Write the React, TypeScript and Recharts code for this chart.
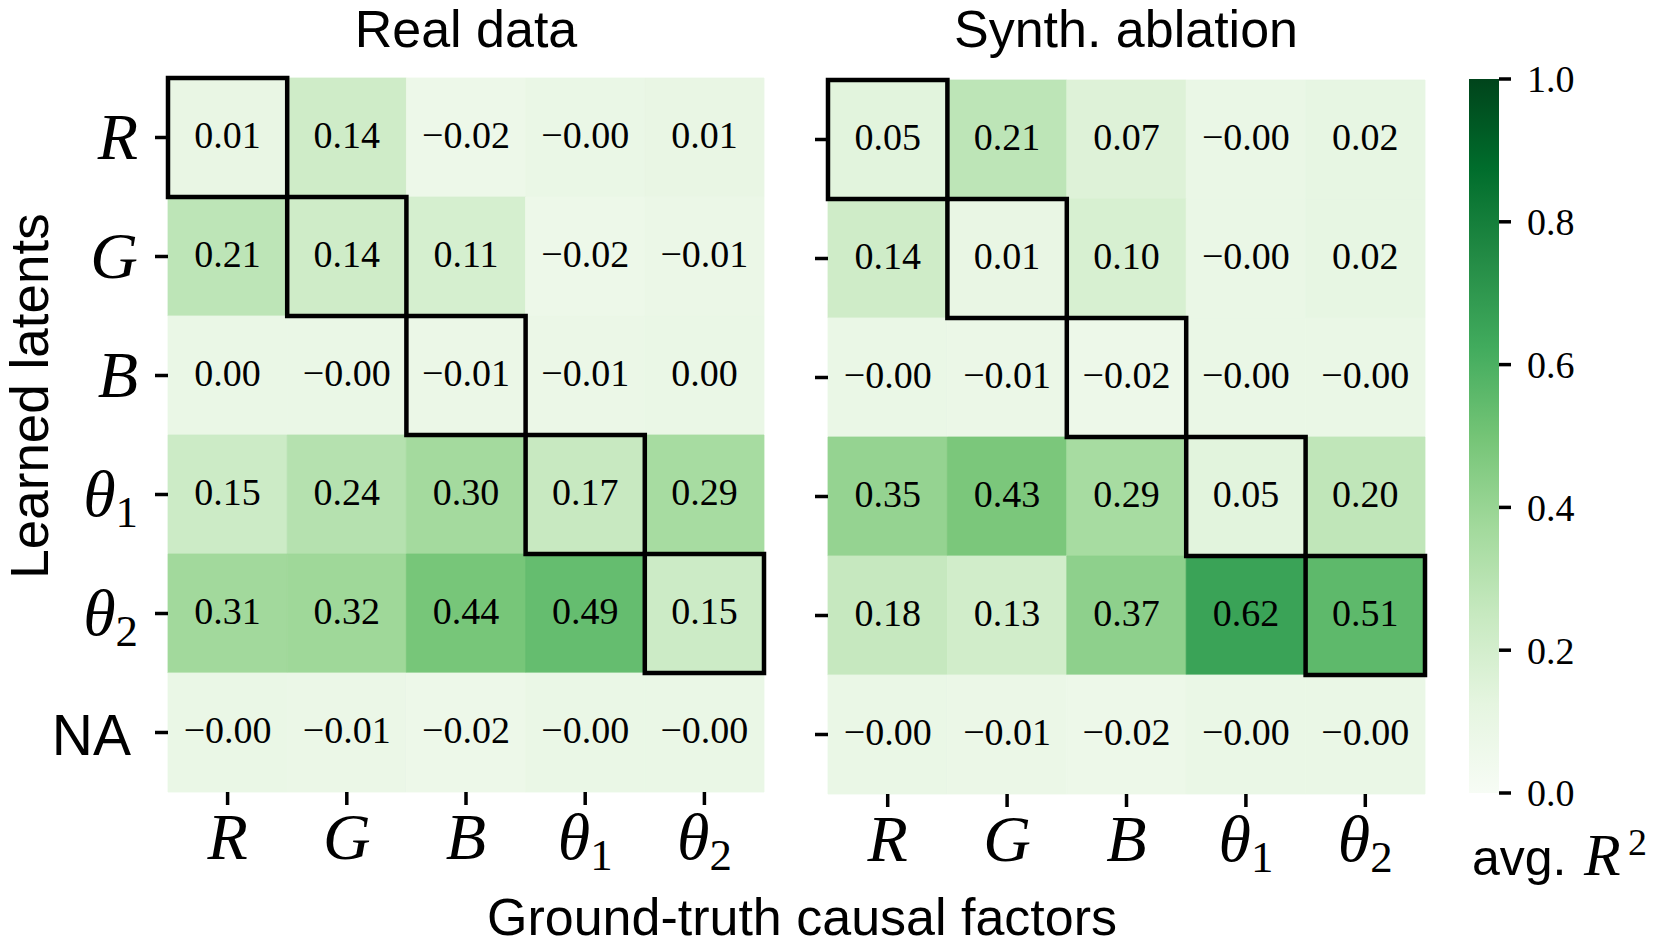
import React from 'react';
import { ScatterChart, Scatter, XAxis, YAxis, ReferenceArea, BarChart, Bar } from 'recharts';

// ---------- data ----------
const factorLabels = ['R', 'G', 'B', 'θ1', 'θ2'];
const latentLabels = ['R', 'G', 'B', 'θ1', 'θ2', 'NA'];

const realRowR = [0.01, 0.14, -0.02, -0.0, 0.01];
const realRowG = [0.21, 0.14, 0.11, -0.02, -0.01];
const realRowB = [0.0, -0.0, -0.01, -0.01, 0.0];
const realRowT1 = [0.15, 0.24, 0.3, 0.17, 0.29];
const realRowT2 = [0.31, 0.32, 0.44, 0.49, 0.15];
const realRowNA = [-0.0, -0.01, -0.02, -0.0, -0.0];

const synthRowR = [0.05, 0.21, 0.07, -0.0, 0.02];
const synthRowG = [0.14, 0.01, 0.1, -0.0, 0.02];
const synthRowB = [-0.0, -0.01, -0.02, -0.0, -0.0];
const synthRowT1 = [0.35, 0.43, 0.29, 0.05, 0.2];
const synthRowT2 = [0.18, 0.13, 0.37, 0.62, 0.51];
const synthRowNA = [-0.0, -0.01, -0.02, -0.0, -0.0];

const realMatrix = [realRowR, realRowG, realRowB, realRowT1, realRowT2, realRowNA];
const synthMatrix = [synthRowR, synthRowG, synthRowB, synthRowT1, synthRowT2, synthRowNA];

// matched (latent row, factor column) pairs outlined in black
const matchedPairs = [
  [0, 0],
  [1, 1],
  [2, 2],
  [3, 3],
  [4, 4],
];

const colorbarTicks = [0, 0.2, 0.4, 0.6, 0.8, 1.0];

// ---------- colours ----------
const GREENS = [
  [247, 252, 245],
  [229, 245, 224],
  [199, 233, 192],
  [161, 217, 155],
  [116, 196, 118],
  [65, 171, 93],
  [35, 139, 69],
  [0, 109, 44],
  [0, 68, 27],
];
function greens(t: number): string {
  const tt = Math.max(0, Math.min(1, t));
  const p = tt * 8;
  const i = Math.min(7, Math.floor(p));
  const f = p - i;
  const a = GREENS[i];
  const b = GREENS[i + 1];
  const c = a.map((av, k) => Math.round(av + (b[k] - av) * f));
  return `rgb(${c[0]},${c[1]},${c[2]})`;
}
const cellColor = (v: number) => greens((v + 0.1) / 1.1);

const fmt = (v: number) =>
  v < 0 || Object.is(v, -0) ? '\u2212' + Math.abs(v).toFixed(2) : v.toFixed(2);

const SERIF = "'Liberation Serif', 'DejaVu Serif', serif";
const SANS = "'Liberation Sans', Arial, sans-serif";

// ---------- math-like label ----------
function MathLabel({ label, x, y, anchor, size }: { label: string; x: number; y: number; anchor: string; size: number }) {
  if (label === 'NA') {
    return (
      <text x={x - 7} y={y + 1} textAnchor={anchor as any} fontFamily={SANS} fontSize={57} fill="#000">
        NA
      </text>
    );
  }
  if (label.startsWith('θ')) {
    return (
      <text x={x} y={y} textAnchor={anchor as any} fontFamily={SERIF} fontSize={size} fill="#000">
        <tspan fontStyle="italic">θ</tspan>
        <tspan fontSize={size * 0.68} dy={size * 0.17}>
          {label.slice(1)}
        </tspan>
      </text>
    );
  }
  return (
    <text x={x} y={y} textAnchor={anchor as any} fontFamily={SERIF} fontStyle="italic" fontSize={size} fill="#000">
      {label}
    </text>
  );
}

const XTick = (props: any) => {
  const { x, y, payload } = props;
  return <MathLabel label={factorLabels[payload.value]} x={x} y={y + 52} anchor="middle" size={66} />;
};
const YTick = (props: any) => {
  const { x, y, payload } = props;
  return <MathLabel label={latentLabels[payload.value]} x={x} y={y + 21} anchor="end" size={66} />;
};
const EmptyTick = () => <g />;

const CellText = (props: any) => {
  const { cx, cy, payload } = props;
  return (
    <text x={cx} y={cy} dy="0.28em" textAnchor="middle" fontFamily={SERIF} fontSize={38} fill="#000">
      {fmt(payload.v)}
    </text>
  );
};

const tickLineStyle = { stroke: '#000', strokeWidth: 3.5 };

function Heatmap({
  matrix,
  showYLabels,
  width,
  height,
  margin,
  yAxisWidth,
}: {
  matrix: number[][];
  showYLabels: boolean;
  width: number;
  height: number;
  margin: any;
  yAxisWidth: number;
}) {
  const cells: { x: number; y: number; v: number }[] = [];
  matrix.forEach((row, j) => row.forEach((v, i) => cells.push({ x: i, y: j, v })));
  return (
    <ScatterChart width={width} height={height} margin={margin}>
      <XAxis
        type="number"
        dataKey="x"
        domain={[-0.5, 4.5]}
        ticks={[0, 1, 2, 3, 4]}
        interval={0}
        axisLine={false}
        tickLine={tickLineStyle}
        tickSize={13}
        tickMargin={2}
        height={70}
        tick={(p: any) => <XTick {...p} />}
      />
      <YAxis
        type="number"
        dataKey="y"
        domain={[-0.5, 5.5]}
        ticks={[0, 1, 2, 3, 4, 5]}
        reversed
        interval={0}
        axisLine={false}
        tickLine={tickLineStyle}
        tickSize={13}
        tickMargin={17}
        width={yAxisWidth}
        tick={(p: any) => (showYLabels ? <YTick {...p} /> : <EmptyTick />)}
      />
      {cells.map((c) => (
        <ReferenceArea
          key={`c-${c.x}-${c.y}`}
          x1={c.x - 0.5}
          x2={c.x + 0.5}
          y1={c.y - 0.5}
          y2={c.y + 0.5}
          fill={cellColor(c.v)}
          fillOpacity={1}
          stroke={cellColor(c.v)}
          strokeWidth={0.8}
          ifOverflow="visible"
        />
      ))}
      {matchedPairs.map(([r, col]) => (
        <ReferenceArea
          key={`d-${r}-${col}`}
          x1={col - 0.5}
          x2={col + 0.5}
          y1={r - 0.5}
          y2={r + 0.5}
          fill="none"
          fillOpacity={0}
          stroke="#000"
          strokeWidth={4.5}
          ifOverflow="visible"
        />
      ))}
      <Scatter data={cells} shape={CellText} isAnimationActive={false} />
    </ScatterChart>
  );
}

function Colorbar() {
  const data = [{ k: 'cb', v: 1 }];
  return (
    <BarChart width={221} height={948} data={data} margin={{ top: 79, bottom: 155, left: 29, right: 12 }} barCategoryGap={0}>
      <defs>
        <linearGradient id="cbGrad" x1="0" y1="1" x2="0" y2="0">
          {GREENS.map((c, i) => (
            <stop key={i} offset={`${(i / 8) * 100}%`} stopColor={`rgb(${c[0]},${c[1]},${c[2]})`} />
          ))}
        </linearGradient>
      </defs>
      <XAxis dataKey="k" hide />
      <YAxis
        orientation="right"
        domain={[0, 1]}
        ticks={colorbarTicks}
        interval={0}
        axisLine={false}
        tickLine={tickLineStyle}
        tickSize={12}
        tickMargin={16}
        width={150}
        tickFormatter={(v: number) => v.toFixed(1)}
        tick={{ fontFamily: SERIF, fontSize: 38, fill: '#000' }}
      />
      <Bar dataKey="v" fill="url(#cbGrad)" isAnimationActive={false} />
    </BarChart>
  );
}

export default function App() {
  return (
    <div style={{ position: 'absolute', left: 0, top: 0, width: 1661, height: 948, background: '#fff', overflow: 'hidden' }}>
      <div style={{ position: 'absolute', left: 0, top: 0 }}>
        <Heatmap
          matrix={realMatrix}
          showYLabels
          width={800}
          height={948}
          margin={{ top: 78, right: 36, bottom: 86, left: 0 }}
          yAxisWidth={168}
        />
      </div>
      <div style={{ position: 'absolute', left: 790, top: 0 }}>
        <Heatmap
          matrix={synthMatrix}
          showYLabels={false}
          width={670}
          height={948}
          margin={{ top: 80, right: 35, bottom: 84, left: 0 }}
          yAxisWidth={38}
        />
      </div>
      <div style={{ position: 'absolute', left: 1440, top: 0 }}>
        <Colorbar />
      </div>
      <svg
        width={1661}
        height={948}
        style={{ position: 'absolute', left: 0, top: 0, pointerEvents: 'none' }}
      >
        <text x={466} y={47} textAnchor="middle" fontFamily={SANS} fontSize={52} fill="#000">
          Real data
        </text>
        <text x={1126} y={47} textAnchor="middle" fontFamily={SANS} fontSize={52} fill="#000">
          Synth. ablation
        </text>
        <text transform="translate(48,396) rotate(-90)" textAnchor="middle" fontFamily={SANS} fontSize={53} fill="#000">
          Learned latents
        </text>
        <text x={802} y={935} textAnchor="middle" fontFamily={SANS} fontSize={52} fill="#000">
          Ground-truth causal factors
        </text>
        <text x={1472} y={875} fontFamily={SANS} fontSize={50} fill="#000">
          avg.
        </text>
        <text x={1584} y={875} fontFamily={SERIF} fontStyle="italic" fontSize={60} fill="#000">
          R
        </text>
        <text x={1628} y={855} fontFamily={SERIF} fontSize={38} fill="#000">
          2
        </text>
      </svg>
    </div>
  );
}
